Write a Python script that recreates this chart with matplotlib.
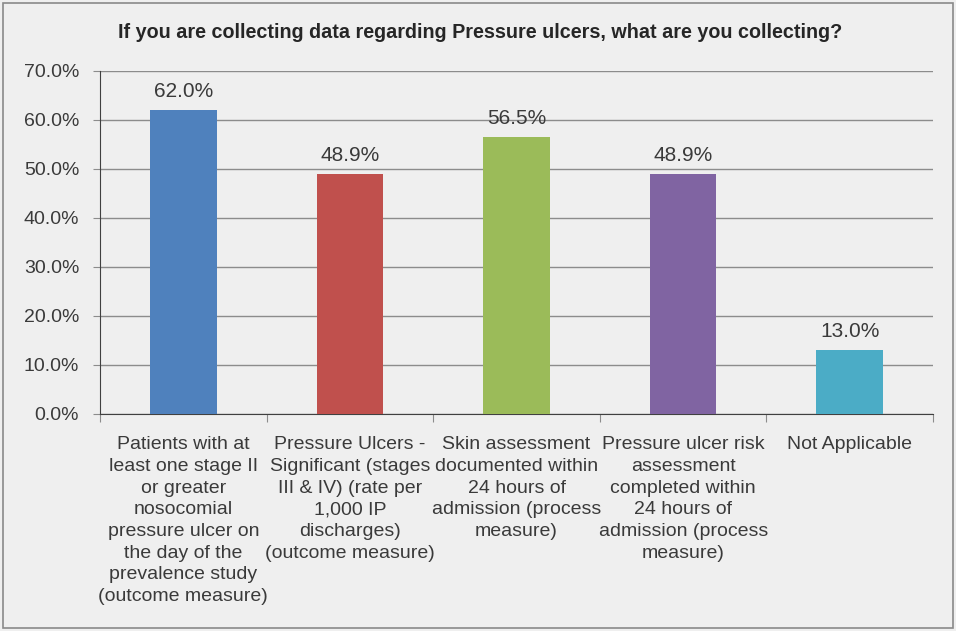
import matplotlib.pyplot as plt
from matplotlib.patches import Rectangle
from matplotlib.ticker import MultipleLocator, PercentFormatter

plt.rcParams['font.family'] = ['Liberation Sans', 'DejaVu Sans']

categories = [
    "Patients with at\nleast one stage II\nor greater\nnosocomial\npressure ulcer on\nthe day of the\nprevalence study\n(outcome measure)",
    "Pressure Ulcers -\nSignificant (stages\nIII & IV) (rate per\n1,000 IP\ndischarges)\n(outcome measure)",
    "Skin assessment\ndocumented within\n24 hours of\nadmission (process\nmeasure)",
    "Pressure ulcer risk\nassessment\ncompleted within\n24 hours of\nadmission (process\nmeasure)",
    "Not Applicable",
]
values = [62.0, 48.9, 56.5, 48.9, 13.0]
colors = ['#4f81bd', '#c0504d', '#9bbb59', '#8064a2', '#4bacc6']
title = "If you are collecting data regarding Pressure ulcers, what are you collecting?"

bg = '#efefef'
text_col = '#3a3a3a'

fig = plt.figure(figsize=(9.56, 6.31), dpi=100, facecolor=bg)
fig.patches.append(Rectangle((0.003, 0.004), 0.994, 0.992, transform=fig.transFigure,
                             fill=False, edgecolor='#8a8a8a', lw=1.2))
ax = fig.add_axes([0.1046, 0.344, 0.8714, 0.5435])
ax.set_facecolor(bg)

x = range(len(values))
ax.bar(x, values, width=0.4, color=colors, zorder=3)
for xi, v in zip(x, values):
    ax.text(xi, v + 1.9, f"{v:.1f}%", ha='center', va='bottom', fontsize=15, color=text_col)

ax.set_xlim(-0.5, len(values) - 0.5)
ax.set_ylim(0, 70)
ax.yaxis.set_major_locator(MultipleLocator(10))
ax.yaxis.set_major_formatter(PercentFormatter(decimals=1))
ax.grid(axis='y', color='#8c8c8c', lw=1, zorder=0)
ax.tick_params(axis='y', labelsize=14, colors=text_col, length=5, color='#8c8c8c', pad=10)

# category boundaries get the tick marks, labels sit between them
ax.set_xticks([i - 0.5 for i in range(len(values) + 1)], minor=False)
ax.set_xticklabels([])
ax.tick_params(axis='x', length=6, color='#8c8c8c')
ax.set_xticks(list(x), minor=True)
ax.set_xticklabels(categories, minor=True, fontsize=14, color=text_col, linespacing=1.36)
ax.tick_params(axis='x', which='minor', length=0, pad=16)
for lbl in ax.get_xticklabels(minor=True):
    lbl.set_va('top')

for s in ['top', 'right']:
    ax.spines[s].set_visible(False)
ax.spines['left'].set_color('#404040')
ax.spines['bottom'].set_color('#404040')

fig.text(0.502, 0.948, title, ha='center', va='center', fontsize=14.2,
         fontweight='bold', color='#262626')

fig.savefig('out.png', dpi=100, facecolor=bg)
